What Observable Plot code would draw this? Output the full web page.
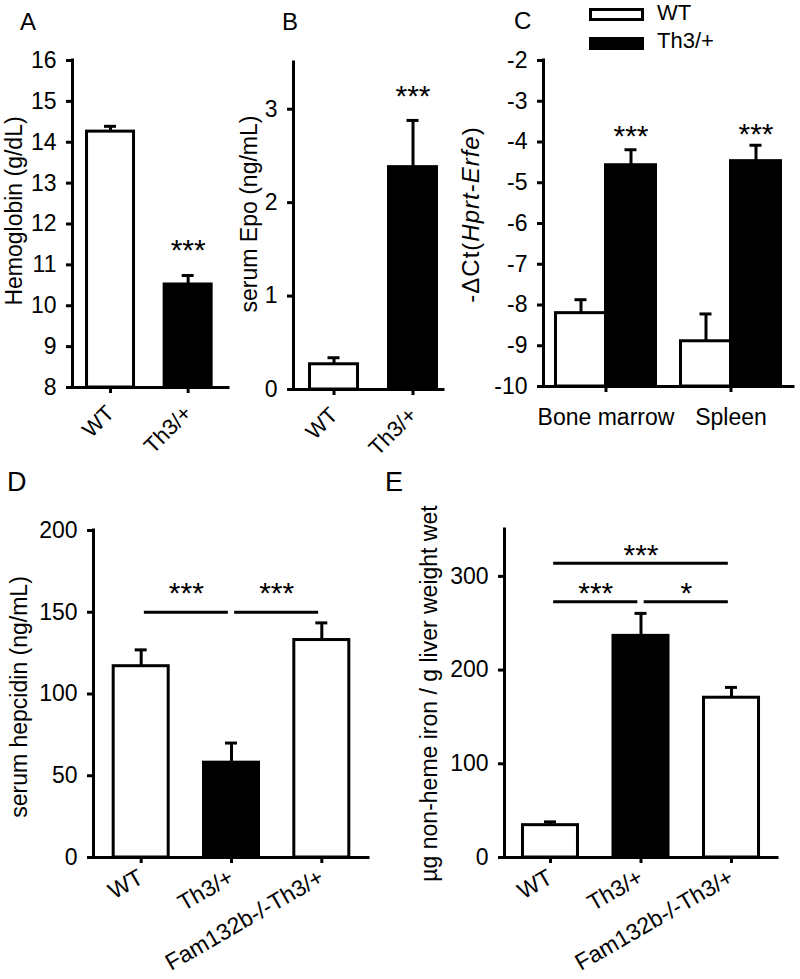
<!DOCTYPE html>
<html><head><meta charset="utf-8">
<script src="https://cdn.jsdelivr.net/npm/d3@7"></script>
<script src="https://cdn.jsdelivr.net/npm/@observablehq/plot@0.6"></script>
<style>
html,body{margin:0;padding:0;background:#fff;}
#fig{position:relative;width:800px;height:979px;overflow:hidden;font-family:'Liberation Sans',Arial,sans-serif;color:#000;background:#fff;}
.panel{position:absolute;}
.letter{position:absolute;font-size:24px;line-height:24px;}
.letter.big{font-size:27px;line-height:27px;}
.lgbox{position:absolute;box-sizing:border-box;width:55px;height:13px;border:3px solid #000;}
.lgtext{position:absolute;font-size:22px;line-height:22px;white-space:nowrap;}
</style></head><body><div id="fig"></div>
<script>
// ---------------- data ----------------
const groupsAB = ["WT", "Th3/+"];
const fillsAB = ["white", "black"];
const hemoglobin = [14.26, 10.52];
const hemoglobinErr = [0.13, 0.22];
const epo = [0.27, 2.38];
const epoErr = [0.07, 0.50];

const tissues = ["Bone marrow", "Spleen"];
const erfeWT = [-8.20, -8.89];
const erfeWTErr = [0.33, 0.67];
const erfeTh3 = [-4.57, -4.47];
const erfeTh3Err = [0.38, 0.39];

const groupsDE = ["WT", "Th3/+", "Fam132b-/-Th3/+"];
const fillsDE = ["white", "black", "white"];
const hepcidin = [117, 58, 133];
const hepcidinErr = [10, 12, 10.5];
const liverIron = [34.5, 236.5, 170.5];
const liverIronErr = [3.5, 24, 11];

// significance marks
const sigA_idx = [1], sigA_y = [11.53], sigA_label = ["***"];
const sigB_idx = [1], sigB_y = [3.21], sigB_label = ["***"];
const sigC_idx = [0, 1], sigC_y = [-3.68, -3.64], sigC_label = ["***", "***"];
const sigD_from = [0, 1], sigD_to = [1, 2], sigD_lineY = [150, 150], sigD_starY = [166, 166], sigD_label = ["***", "***"];
const sigE_from = [0, 0, 1], sigE_to = [2, 1, 2], sigE_lineY = [314, 273, 273], sigE_starY = [330, 289, 289], sigE_label = ["***", "***", "*"];

// ---------------- helpers ----------------
const SW = 3;
const FONT = "'Liberation Sans', Arial, sans-serif";
const YTICK_FS = 23;
const fig = document.getElementById("fig");

function place(node, left, top) {
  const d = document.createElement("div");
  d.className = "panel";
  d.style.left = left + "px"; d.style.top = top + "px";
  d.appendChild(node);
  fig.appendChild(d);
  return d;
}
function addDiv(cls, text, left, top) {
  const d = document.createElement("div");
  d.className = cls;
  if (text != null) d.textContent = text;
  d.style.left = left + "px"; d.style.top = top + "px";
  fig.appendChild(d);
  return d;
}

function barPanel(cfg) {
  const {width, height, ml, mr, mt, mb, xDomain, yDomain, yTicks, cats, fills, values, errs,
         barPx, tickRotate, tickPadX, xFont, sig, comps, yLabel, labelDx, labelDy} = cfg;
  const unit = (width - ml - mr) / (xDomain[1] - xDomain[0]);
  const HW = barPx / 2 / unit, CAP = 6 / unit;
  const y0 = yDomain[0];
  const data = cats.map((c, i) => ({i, c, v: values[i], e: errs[i], fill: fills[i]}));
  const marks = [
    Plot.rect(data, {x1: d => d.i - HW, x2: d => d.i + HW, y1: () => y0, y2: "v", fill: "fill", stroke: "black", strokeWidth: SW}),
    Plot.ruleX(data, {x: "i", y1: "v", y2: d => d.v + d.e, strokeWidth: SW}),
    Plot.ruleY(data, {y: d => d.v + d.e, x1: d => d.i - CAP, x2: d => d.i + CAP, strokeWidth: SW}),
    Plot.ruleY([y0], {strokeWidth: SW, strokeLinecap: "square"}),
    Plot.ruleX([xDomain[0]], {strokeWidth: SW, strokeLinecap: "square"}),
    Plot.axisY({ticks: yTicks, tickFormat: d => String(d), tickSize: 6, tickPadding: 10, strokeWidth: SW, fontSize: YTICK_FS, label: null}),
    Plot.axisX({ticks: cats.map((c, i) => i), tickFormat: i => cats[i], tickRotate, tickSize: 6, tickPadding: tickPadX, strokeWidth: SW, fontSize: xFont, label: null}),
    Plot.text([yLabel], {frameAnchor: "left", textAnchor: "middle", lineAnchor: "middle", text: d => d, rotate: -90, dx: labelDx, dy: labelDy, fontSize: 23})
  ];
  if (sig) {
    const s = sig.idx.map((k, j) => ({x: k, y: sig.y[j], t: sig.label[j]}));
    marks.push(Plot.text(s, {x: "x", y: "y", text: "t", fontSize: 30, dy: 7}));
  }
  if (comps) {
    const c = comps.from.map((f, j) => ({a: f, b: comps.to[j], ly: comps.lineY[j], sy: comps.starY[j], t: comps.label[j]}));
    const gap = 0.035;
    marks.push(Plot.ruleY(c, {y: "ly", x1: d => d.a + gap, x2: d => d.b - gap, strokeWidth: SW}));
    marks.push(Plot.text(c, {x: d => (d.a + d.b) / 2, y: "sy", text: "t", fontSize: 30, dy: 7}));
  }
  return Plot.plot({
    width, height, marginLeft: ml, marginRight: mr, marginTop: mt, marginBottom: mb,
    x: {type: "linear", domain: xDomain},
    y: {domain: yDomain},
    color: {type: "identity"},
    style: {fontFamily: FONT, fontSize: "22px", color: "black", background: "transparent", overflow: "visible"},
    marks
  });
}

// ---------------- Panel A ----------------
place(barPanel({
  width: 240, height: 460, ml: 72, mr: 12, mt: 60, mb: 73,
  xDomain: [-0.49, 1.52], yDomain: [8, 16], yTicks: d3.range(8, 17),
  cats: groupsAB, fills: fillsAB, values: hemoglobin, errs: hemoglobinErr, barPx: 47,
  tickRotate: -45, tickPadX: 16, xFont: 22,
  sig: {idx: sigA_idx, y: sigA_y, label: sigA_label},
  yLabel: "Hemoglobin (g/dL)", labelDx: -58, labelDy: -13
}), 0, 0);

// ---------------- Panel B ----------------
place(barPanel({
  width: 220, height: 460, ml: 53, mr: 17, mt: 62, mb: 71,
  xDomain: [-0.513, 1.386], yDomain: [0, 3.5], yTicks: [0, 1, 2, 3],
  cats: groupsAB, fills: fillsAB, values: epo, errs: epoErr, barPx: 48,
  tickRotate: -45, tickPadX: 16, xFont: 22,
  sig: {idx: sigB_idx, y: sigB_y, label: sigB_label},
  yLabel: "serum Epo (ng/mL)", labelDx: -44, labelDy: -12
}), 240, 0);

// ---------------- Panel C ----------------
(function () {
  const width = 340, height = 460, ml = 83, mr = 7, mt = 60, mb = 74;
  const xDomain = [-0.5, 1.5], yDomain = [-10, -2];
  const unit = (width - ml - mr) / (xDomain[1] - xDomain[0]);
  const BW = 50 / unit, CAP = 6 / unit;
  const rows = [];
  tissues.forEach((t, i) => {
    rows.push({i, x1: i - BW, x2: i, v: erfeWT[i], e: erfeWTErr[i], fill: "white"});
    rows.push({i, x1: i, x2: i + BW, v: erfeTh3[i], e: erfeTh3Err[i], fill: "black"});
  });
  const stars = sigC_idx.map((k, j) => ({x: k + BW / 2, y: sigC_y[j], t: sigC_label[j]}));
  const labelC = "-ΔCt(Hprt-Erfe)";
  const svg = Plot.plot({
    width, height, marginLeft: ml, marginRight: mr, marginTop: mt, marginBottom: mb,
    x: {type: "linear", domain: xDomain},
    y: {domain: yDomain},
    color: {type: "identity"},
    style: {fontFamily: FONT, fontSize: "22px", color: "black", background: "transparent", overflow: "visible"},
    marks: [
      Plot.rect(rows, {x1: "x1", x2: "x2", y1: () => yDomain[0], y2: "v", fill: "fill", stroke: "black", strokeWidth: SW}),
      Plot.ruleX(rows, {x: d => (d.x1 + d.x2) / 2, y1: "v", y2: d => d.v + d.e, strokeWidth: SW}),
      Plot.ruleY(rows, {y: d => d.v + d.e, x1: d => (d.x1 + d.x2) / 2 - CAP, x2: d => (d.x1 + d.x2) / 2 + CAP, strokeWidth: SW}),
      Plot.ruleY([yDomain[0]], {strokeWidth: SW, strokeLinecap: "square"}),
      Plot.ruleX([xDomain[0]], {strokeWidth: SW, strokeLinecap: "square"}),
      Plot.axisY({ticks: d3.range(-10, -1), tickFormat: d => String(d), tickSize: 6, tickPadding: 10, strokeWidth: SW, fontSize: YTICK_FS, label: null}),
      Plot.axisX({ticks: [0, 1], tickFormat: i => tissues[i], tickSize: 6, tickPadding: 16, strokeWidth: SW, fontSize: 23, label: null}),
      Plot.text(stars, {x: "x", y: "y", text: "t", fontSize: 30, dy: 7}),
      Plot.text([labelC], {frameAnchor: "left", textAnchor: "middle", lineAnchor: "middle", text: d => d, rotate: -90, dx: -72, dy: -9, fontSize: 24})
    ]
  });
  d3.select(svg).selectAll("text").filter(function () { return this.textContent === labelC; }).each(function () {
    const t = d3.select(this);
    t.text(null).attr("letter-spacing", "1px");
    t.append("tspan").text("-ΔCt(");
    t.append("tspan").attr("font-style", "italic").text("Hprt");
    t.append("tspan").text("-");
    t.append("tspan").attr("font-style", "italic").text("Erfe");
    t.append("tspan").text(")");
  });
  place(svg, 460, 0);
})();

// legend for C
addDiv("lgbox", null, 589, 8).style.background = "#fff";
addDiv("lgbox", null, 589, 37).style.background = "#000";
addDiv("lgtext", "WT", 657, 2);
addDiv("lgtext", "Th3/+", 657, 30);

// ---------------- Panel D ----------------
place(barPanel({
  width: 390, height: 519, ml: 93, mr: 22, mt: 70, mb: 122,
  xDomain: [-0.528, 2.517], yDomain: [0, 200], yTicks: [0, 50, 100, 150, 200],
  cats: groupsDE, fills: fillsDE, values: hepcidin, errs: hepcidinErr, barPx: 55,
  tickRotate: -30, tickPadX: 12, xFont: 23,
  comps: {from: sigD_from, to: sigD_to, lineY: sigD_lineY, starY: sigD_starY, label: sigD_label},
  yLabel: "serum hepcidin (ng/mL)", labelDx: -74, labelDy: 3
}), 0, 460);

// ---------------- Panel E ----------------
place(barPanel({
  width: 410, height: 519, ml: 114, mr: 23, mt: 69, mb: 122,
  xDomain: [-0.508, 2.508], yDomain: [0, 350], yTicks: [0, 100, 200, 300],
  cats: groupsDE, fills: fillsDE, values: liverIron, errs: liverIronErr, barPx: 55,
  tickRotate: -30, tickPadX: 12, xFont: 23,
  comps: {from: sigE_from, to: sigE_to, lineY: sigE_lineY, starY: sigE_starY, label: sigE_label},
  yLabel: "µg non-heme iron / g liver weight wet", labelDx: -75, labelDy: 0
}), 390, 460);

// panel letters
addDiv("letter", "A", 20, 10);
addDiv("letter", "B", 282, 10);
addDiv("letter", "C", 514, 9);
addDiv("letter big", "D", 7, 469);
addDiv("letter big", "E", 385, 469);
</script>
</body></html>
